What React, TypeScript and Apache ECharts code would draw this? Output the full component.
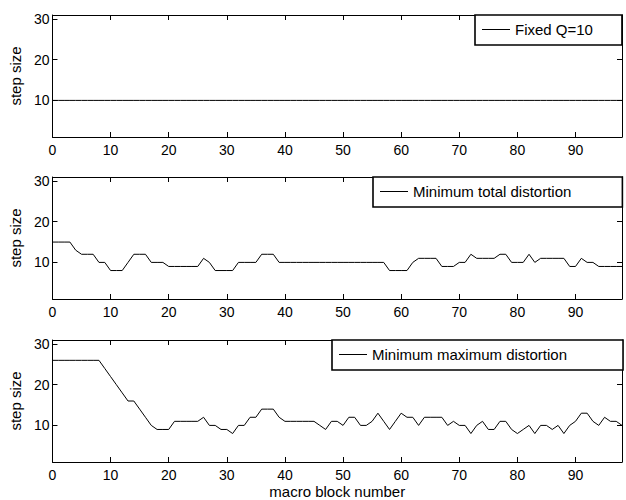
import React, { useEffect, useRef } from 'react';
import * as echarts from 'echarts';

// macro block index 0..98
const macroBlocks: number[] = [
  0, 1, 2, 3, 4, 5, 6, 7, 8, 9, 10, 11, 12, 13, 14, 15, 16, 17, 18, 19,
  20, 21, 22, 23, 24, 25, 26, 27, 28, 29, 30, 31, 32, 33, 34, 35, 36, 37, 38, 39,
  40, 41, 42, 43, 44, 45, 46, 47, 48, 49, 50, 51, 52, 53, 54, 55, 56, 57, 58, 59,
  60, 61, 62, 63, 64, 65, 66, 67, 68, 69, 70, 71, 72, 73, 74, 75, 76, 77, 78, 79,
  80, 81, 82, 83, 84, 85, 86, 87, 88, 89, 90, 91, 92, 93, 94, 95, 96, 97, 98,
];

const fixedQ: number[] = [
  10, 10, 10, 10, 10, 10, 10, 10, 10, 10, 10, 10, 10, 10, 10, 10, 10, 10, 10, 10,
  10, 10, 10, 10, 10, 10, 10, 10, 10, 10, 10, 10, 10, 10, 10, 10, 10, 10, 10, 10,
  10, 10, 10, 10, 10, 10, 10, 10, 10, 10, 10, 10, 10, 10, 10, 10, 10, 10, 10, 10,
  10, 10, 10, 10, 10, 10, 10, 10, 10, 10, 10, 10, 10, 10, 10, 10, 10, 10, 10, 10,
  10, 10, 10, 10, 10, 10, 10, 10, 10, 10, 10, 10, 10, 10, 10, 10, 10, 10, 10,
];

const minTotalDistortion: number[] = [
  15, 15, 15, 15, 13, 12, 12, 12, 10, 10, 8, 8, 8, 10, 12, 12, 12, 10, 10, 10,
  9, 9, 9, 9, 9, 9, 11, 10, 8, 8, 8, 8, 10, 10, 10, 10, 12, 12, 12, 10,
  10, 10, 10, 10, 10, 10, 10, 10, 10, 10, 10, 10, 10, 10, 10, 10, 10, 10, 8, 8,
  8, 8, 10, 11, 11, 11, 11, 9, 9, 9, 10, 10, 12, 11, 11, 11, 11, 12, 12, 10,
  10, 10, 12, 10, 11, 11, 11, 11, 11, 9, 9, 11, 10, 10, 9, 9, 9, 9, 9,
];

const minMaxDistortion: number[] = [
  26, 26, 26, 26, 26, 26, 26, 26, 26, 24, 22, 20, 18, 16, 16, 14, 12, 10, 9, 9,
  9, 11, 11, 11, 11, 11, 12, 10, 10, 9, 9, 8, 10, 10, 12, 12, 14, 14, 14, 12,
  11, 11, 11, 11, 11, 11, 10, 9, 11, 11, 10, 12, 12, 10, 10, 11, 13, 11, 9, 11,
  13, 12, 12, 10, 12, 12, 12, 12, 10, 11, 10, 10, 8, 10, 11, 9, 9, 11, 11, 9,
  8, 9, 10, 8, 10, 10, 9, 10, 8, 10, 11, 13, 13, 11, 10, 12, 11, 11, 10,
];

const xTickValues: number[] = [0, 10, 20, 30, 40, 50, 60, 70, 80, 90];
const yTickValues: number[] = [10, 20, 30];
const seriesNames: string[] = ['Fixed Q=10', 'Minimum total distortion', 'Minimum maximum distortion'];
const yAxisTitle = 'step size';
const xAxisTitle = 'macro block number';

export default function App() {
  const ref = useRef<HTMLDivElement>(null);

  useEffect(() => {
    document.body.style.margin = '0';
    const chart = echarts.init(ref.current as HTMLDivElement, null, { renderer: 'svg' });
    const font = '"Liberation Sans", Arial, Helvetica, sans-serif';
    const tops = [15, 177, 340];
    const gridHeight = 122;
    const panels = [fixedQ, minTotalDistortion, minMaxDistortion];

    const grid = tops.map((t) => ({ left: 50, right: 4, top: t, height: gridHeight, show: false }));
    const axisLine = { show: true, onZero: false, lineStyle: { color: '#000', width: 1 } };
    const tickStyle = { show: true, inside: true, length: 5, lineStyle: { color: '#000', width: 1 } };

    const xAxis: any[] = [];
    const yAxis: any[] = [];
    tops.forEach((_, i) => {
      const xBase = {
        type: 'value',
        gridIndex: i,
        min: 0,
        max: 98,
        axisLine,
        axisTick: { ...tickStyle, customValues: xTickValues },
        splitLine: { show: false },
      };
      xAxis.push({
        ...xBase,
        position: 'bottom',
        axisLabel: {
          color: '#000',
          fontSize: 14,
          fontFamily: font,
          margin: 6,
          customValues: xTickValues,
        },
        name: i === 2 ? xAxisTitle : '',
        nameLocation: 'middle',
        nameGap: 22,
        nameTextStyle: { color: '#000', fontSize: 15, fontFamily: font, fontWeight: 'normal' },
      });
      xAxis.push({ ...xBase, position: 'top', axisLabel: { show: false } });

      const yBase = {
        type: 'value',
        gridIndex: i,
        min: 1,
        max: 31,
        axisLine,
        axisTick: { ...tickStyle, customValues: yTickValues },
        splitLine: { show: false },
      };
      yAxis.push({
        ...yBase,
        position: 'left',
        axisLabel: {
          color: '#000',
          fontSize: 14,
          fontFamily: font,
          margin: 3,
          customValues: yTickValues,
        },
        name: yAxisTitle,
        nameLocation: 'middle',
        nameGap: 26,
        nameTextStyle: { color: '#000', fontSize: 15, fontFamily: font, fontWeight: 'normal' },
      });
      yAxis.push({ ...yBase, position: 'right', axisLabel: { show: false } });
    });

    const series = panels.map((vals, i) => ({
      name: seriesNames[i],
      type: 'line',
      xAxisIndex: i * 2,
      yAxisIndex: i * 2,
      symbol: 'none',
      lineStyle: { color: '#000', width: 1 },
      itemStyle: { color: '#000' },
      data: macroBlocks.map((x, j) => [x, vals[j]]),
    }));

    const legendLefts = [475, 373, 332];
    const legendRightPads = [29, 51, 56];
    const legend = seriesNames.map((n, i) => ({
      data: [n],
      left: legendLefts[i],
      top: tops[i],
      orient: 'horizontal',
      icon: 'rect',
      itemWidth: 28,
      itemHeight: 1,
      padding: [7, legendRightPads[i], 8, 7],
      borderColor: '#000',
      borderWidth: 1.6,
      backgroundColor: '#fff',
      selectedMode: false,
      itemStyle: { color: '#000' },
      textStyle: { color: '#000', fontSize: 15, fontFamily: font },
    }));

    chart.setOption({
      animation: false,
      backgroundColor: '#fff',
      grid,
      xAxis,
      yAxis,
      legend,
      series,
    });

    return () => chart.dispose();
  }, []);

  return <div ref={ref} style={{ width: 626, height: 500 }} />;
}
